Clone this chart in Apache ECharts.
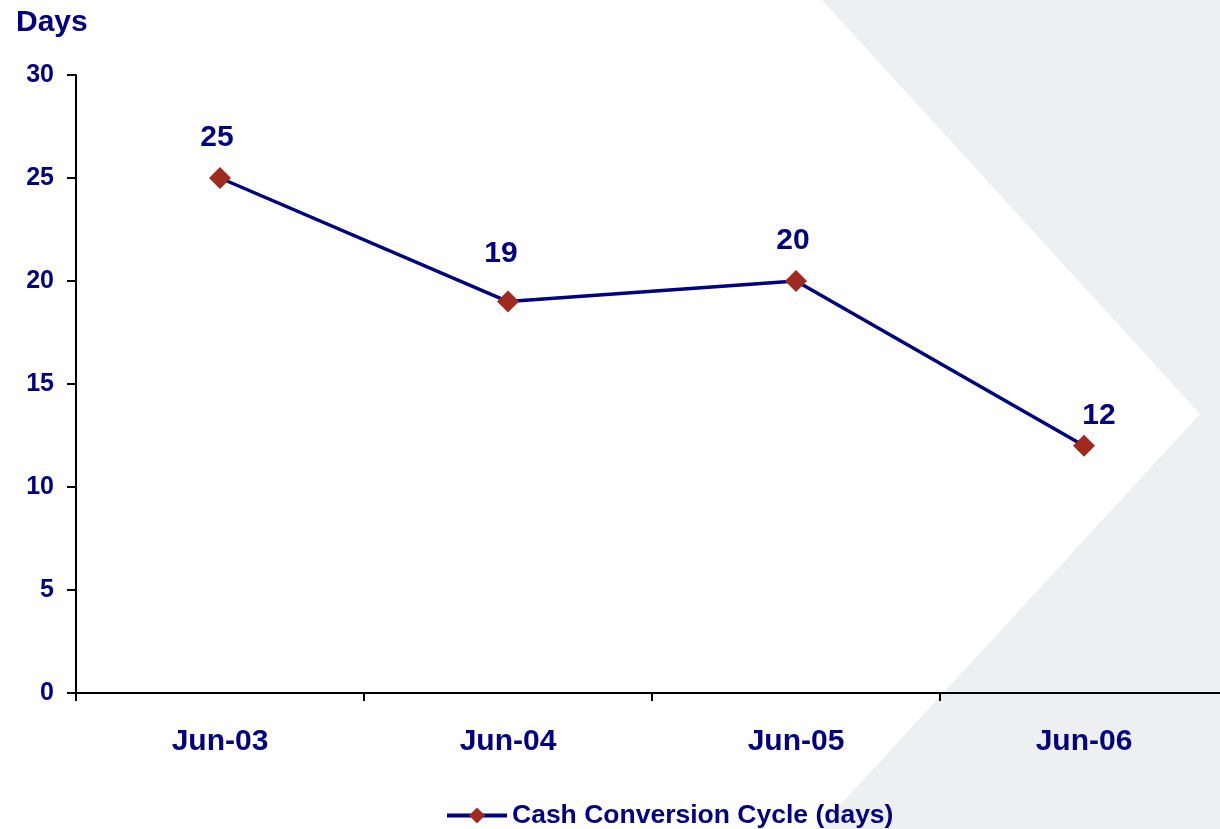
<!DOCTYPE html>
<html><head><meta charset="utf-8">
<script src="https://cdn.jsdelivr.net/npm/echarts@6/dist/echarts.min.js"></script>
<style>html,body{margin:0;padding:0;background:#fff}#c{width:1220px;height:829px}</style>
</head><body><div id="c"></div>
<script>
const categories = ['Jun-03', 'Jun-04', 'Jun-05', 'Jun-06'];
const cashConversionCycle = [25, 19, 20, 12];
const seriesName = 'Cash Conversion Cycle (days)';
const navy = '#000080';
const FONT = 'Liberation Sans, Arial, sans-serif';
// label nudges (style only)
const labelNudge = [[-3, 0], [-7, -8], [-3, 0], [15, 10]];
const chart = echarts.init(document.getElementById('c'));
chart.setOption({
  backgroundColor: '#ffffff',
  textStyle: { fontFamily: FONT },
  graphic: [{
    type: 'polygon', z: -10, silent: true,
    shape: { points: [[822, 0], [1220, 0], [1220, 829], [818, 829], [1200, 414]] },
    style: { fill: '#eeeff0' }
  }],
  title: {
    text: 'Days', left: 11, top: 3,
    textStyle: { color: navy, fontSize: 30, fontWeight: 'bold', fontFamily: FONT }
  },
  legend: {
    top: 797, left: 440, itemWidth: 60, itemHeight: 20, itemGap: 10,
    data: [{ name: seriesName }],
    lineStyle: { width: 4 },
    textStyle: { color: navy, fontSize: 26.5, fontWeight: 'bold', fontFamily: FONT }
  },
  grid: { left: 76, top: 75, bottom: 136, right: -8, containLabel: false, outerBoundsMode: 'none' },
  xAxis: {
    type: 'category', data: categories, boundaryGap: true,
    axisLine: { lineStyle: { color: '#000', width: 2 } },
    axisTick: { show: true, length: 8, lineStyle: { color: '#000', width: 2 } },
    axisLabel: { color: navy, fontSize: 30, fontWeight: 'bold', margin: 34 },
    splitLine: { show: false }
  },
  yAxis: {
    type: 'value', min: 0, max: 30, interval: 5,
    axisLine: { show: true, lineStyle: { color: '#000', width: 2 } },
    axisTick: { show: true, length: 9, lineStyle: { color: '#000', width: 2 } },
    axisLabel: { color: navy, fontSize: 25, fontWeight: 'bold', margin: 22 },
    splitLine: { show: false }
  },
  series: [{
    name: seriesName, type: 'line',
    data: cashConversionCycle.map((v, i) => ({ value: v, label: { offset: labelNudge[i] } })),
    symbol: 'diamond', symbolSize: 22,
    lineStyle: { color: navy, width: 3.5 },
    itemStyle: { color: '#a02a1e' },
    label: { show: true, position: 'top', distance: 14, color: navy, fontSize: 30, fontWeight: 'bold' }
  }]
});
</script></body></html>
